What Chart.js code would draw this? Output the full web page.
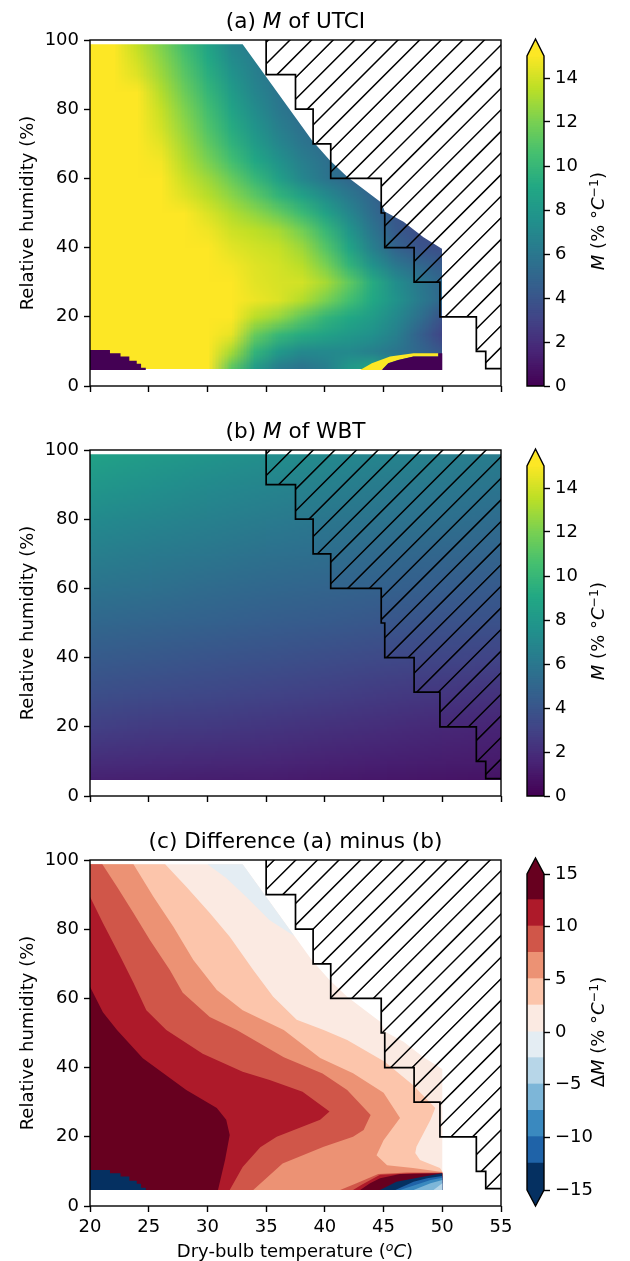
<!DOCTYPE html>
<html>
<head>
<meta charset="utf-8">
<script src="https://cdn.jsdelivr.net/npm/chart.js@4"></script>
<style>
html, body { margin: 0; padding: 0; background: #fff; }
#page { position: relative; width: 630px; height: 1261px; overflow: hidden; font-family: "DejaVu Sans"; color: #000; }
#page canvas { position: absolute; }
.txt { position: absolute; white-space: nowrap; transform: translate(-50%, -50%); }
.rot { transform: translate(-50%, -50%) rotate(-90deg); }
.title { font-size: 21.6px; }
.lab { font-size: 18px; }
.cb { font-size: 18px; }
sup { font-size: 70%; line-height: 0; vertical-align: 0.45em; }
</style>
</head>
<body>
<div id="page">
  <canvas id="panelA" width="530" height="400" style="left:0;top:20px"></canvas>
  <canvas id="barA" width="115" height="400" style="left:515px;top:20px"></canvas>
  <canvas id="panelB" width="530" height="400" style="left:0;top:430px"></canvas>
  <canvas id="barB" width="115" height="400" style="left:515px;top:430px"></canvas>
  <canvas id="panelC" width="530" height="421" style="left:0;top:840px"></canvas>
  <canvas id="barC" width="115" height="421" style="left:515px;top:840px"></canvas>

  <div class="txt title" style="left:295.5px;top:20px">(a) <i>M</i> of UTCI</div>
  <div class="txt title" style="left:295.5px;top:430px">(b) <i>M</i> of WBT</div>
  <div class="txt title" style="left:295.5px;top:840px">(c) Difference (a) minus (b)</div>
  <div class="txt lab rot" style="left:26px;top:213px">Relative humidity (%)</div>
  <div class="txt lab rot" style="left:26px;top:623px">Relative humidity (%)</div>
  <div class="txt lab rot" style="left:26px;top:1033px">Relative humidity (%)</div>
  <div class="txt lab" style="left:295px;top:1250px">Dry-bulb temperature (<sup><i>o</i></sup><i>C</i>)</div>
  <div class="txt cb rot" style="left:597px;top:221px"><i>M</i> (% °<i>C</i><sup>−1</sup>)</div>
  <div class="txt cb rot" style="left:597px;top:631px"><i>M</i> (% °<i>C</i><sup>−1</sup>)</div>
  <div class="txt cb rot" style="left:597px;top:1032px">Δ<i>M</i> (% °<i>C</i><sup>−1</sup>)</div>
</div>

<script>
// axis ticks
const tempTicks = [20, 25, 30, 35, 40, 45, 50, 55];
const humidTicks = [0, 20, 40, 60, 80, 100];
const mTicks = [0, 2, 4, 6, 8, 10, 12, 14];
const dmTicks = [-15, -10, -5, 0, 5, 10, 15];

// panel (a), M of UTCI, one row per humidity value
const utciT = [20, 22, 24, 26, 28, 30, 32, 34, 36, 38, 40, 42, 44, 46, 48, 50];
const utciRH = [5, 10, 15, 20, 25, 30, 35, 40, 45, 50, 55, 60, 65, 70, 75, 80, 85, 90, 95, 100];
const utci5 = [15, 15, 15, 15, 15, 15, 11, 8, 6.2, 5.6, 6.3, 8, 9, 7, 5, 4];
const utci10 = [15, 15, 15, 15, 15, 15, 13, 9.8, 8, 7, 7, 7, 6.5, 5.8, 5, 4];
const utci15 = [15, 15, 15, 15, 15, 15, 14.5, 11.5, 10, 9.2, 8.6, 8, 7.5, 6.5, 4.6, 3];
const utci20 = [15, 15, 15, 15, 15, 15, 15, 13.4, 12.6, 11.2, 9.8, 9, 8.2, 7, 5.5, 3.8];
const utci25 = [15, 15, 15, 15, 15, 15, 15, 14.6, 14.2, 13.3, 12, 10.5, 9, 7.6, 6.2, 5];
const utci30 = [15, 15, 15, 15, 15, 15, 15, 14.4, 14.1, 14, 13, 11.3, 9.2, 7.3, 6, 5];
const utci35 = [15, 15, 15, 15, 15, 15, 14.8, 14.3, 14, 13.4, 12, 9.8, 7.6, 6, 5, 4.3];
const utci40 = [15, 15, 15, 15, 15, 15, 14.4, 14, 13.7, 12.8, 11, 8.8, 6.5, 4.8, 3.9, 3.6];
const utci45 = [15, 15, 15, 15, 15, 14.7, 13.9, 13.5, 13, 11.8, 10, 7.8, 5.8, 4.3, 3.5, 3.3];
const utci50 = [15, 15, 15, 15, 15, 14.2, 13.3, 12.5, 11.5, 10.2, 8.6, 6.9, 5.3, 4, 3.5, 3.3];
const utci55 = [15, 15, 15, 15, 14.3, 13.4, 12.4, 11.2, 9.8, 8.6, 7.2, 6, 4.9, 3.8, 3.5, 3.3];
const utci60 = [15, 15, 15, 15, 13.8, 12.8, 11.5, 10, 8.5, 6.9, 5.8, 5.1, 4.5, 3.8, 3.5, 3.3];
const utci65 = [15, 15, 15, 14.8, 13.3, 12, 10.5, 9, 7.6, 6.4, 5.6, 4.9, 4.5, 3.8, 3.5, 3.3];
const utci70 = [15, 15, 15, 14.4, 12.9, 11.3, 9.7, 8.2, 6.9, 5.9, 5.2, 4.9, 4.5, 3.8, 3.5, 3.3];
const utci75 = [15, 15, 15, 14, 12.5, 10.8, 9.2, 7.7, 6.4, 5.5, 5, 4.9, 4.5, 3.8, 3.5, 3.3];
const utci80 = [15, 15, 15, 13.7, 12.1, 10.4, 8.7, 7.2, 6, 5.3, 5, 4.9, 4.5, 3.8, 3.5, 3.3];
const utci85 = [15, 15, 15, 13.3, 11.6, 9.9, 8.2, 6.8, 5.8, 5.3, 5, 4.9, 4.5, 3.8, 3.5, 3.3];
const utci90 = [15, 15, 14.3, 12.8, 11.1, 9.4, 7.7, 6.5, 5.6, 5.3, 5, 4.9, 4.5, 3.8, 3.5, 3.3];
const utci95 = [15, 15, 13.9, 12.4, 10.7, 9, 7.2, 6.3, 5.6, 5.3, 5, 4.9, 4.5, 3.8, 3.5, 3.3];
const utci100 = [15, 15, 13.5, 12, 10.2, 8.6, 6.8, 6, 5.6, 5.3, 5, 4.9, 4.5, 3.8, 3.5, 3.3];
const utciRows = [utci5, utci10, utci15, utci20, utci25, utci30, utci35, utci40, utci45, utci50, utci55, utci60, utci65, utci70, utci75, utci80, utci85, utci90, utci95, utci100];

// panel (b), M of WBT
const wbtT = [20, 25, 30, 35, 40, 45, 50, 55];
const wbtRH = [0, 10, 20, 30, 40, 50, 60, 70, 80, 90, 100];
const wbt0 = [0.9, 0.9, 0.8, 0.8, 0.7, 0.6, 0.5, 0.4];
const wbt10 = [1.9, 1.8, 1.7, 1.6, 1.4, 1.3, 1.2, 1.1];
const wbt20 = [2.8, 2.6, 2.5, 2.3, 2.1, 1.9, 1.7, 1.5];
const wbt30 = [3.6, 3.4, 3.2, 3.0, 2.8, 2.6, 2.4, 2.2];
const wbt40 = [4.3, 4.1, 3.9, 3.7, 3.5, 3.3, 3.1, 3.0];
const wbt50 = [5.0, 4.8, 4.6, 4.4, 4.2, 4.0, 3.8, 3.7];
const wbt60 = [5.7, 5.5, 5.2, 5.0, 4.8, 4.6, 4.4, 4.2];
const wbt70 = [6.4, 6.1, 5.9, 5.6, 5.4, 5.1, 4.9, 4.8];
const wbt80 = [7.1, 6.8, 6.5, 6.2, 5.9, 5.7, 5.5, 5.3];
const wbt90 = [7.9, 7.5, 7.1, 6.8, 6.5, 6.2, 6.0, 5.8];
const wbt100 = [8.7, 8.2, 7.8, 7.4, 7.1, 6.8, 6.5, 6.3];
const wbtRows = [wbt0, wbt10, wbt20, wbt30, wbt40, wbt50, wbt60, wbt70, wbt80, wbt90, wbt100];

// outline of the data (T, RH) in panels a and c, and in b
const maskT = [20, 50, 50, 48.4, 46.7, 45.1, 44.8, 41.9, 40.4, 38.9, 33, 20];
const maskRH = [4.6, 4.6, 39.6, 43, 47.5, 50.4, 53, 60.5, 65.3, 71, 98.8, 98.8];
const fullT = [20, 55, 55, 20];
const fullRH = [4.6, 4.6, 98.8, 98.8];

// hatched region
const hatchT = [35, 35, 37.5, 37.5, 39, 39, 40.5, 40.5, 44.8, 44.8, 45.1, 45.1, 47.6, 47.6, 49.8, 49.8, 52.9, 52.9, 53.7, 53.7, 55, 55, 35];
const hatchRH = [100, 90, 90, 80, 80, 70, 70, 60, 60, 50, 50, 40, 40, 30, 30, 20, 20, 10, 10, 5, 5, 100, 100];

// extreme patches in panel a
const coldT = [20, 20, 21.7, 21.7, 22.6, 22.6, 23.35, 23.35, 23.98, 23.98, 24.35, 24.35, 24.75, 24.75];
const coldRH = [4.6, 10.4, 10.4, 9.45, 9.45, 8.5, 8.5, 7.3, 7.3, 6.4, 6.4, 5.3, 5.3, 4.6];
const streakHighT = [43, 44, 45.55, 47.55, 49.66, 49.66, 47.55, 46.25, 45.4, 44.85];
const streakHighRH = [4.6, 6.55, 8.5, 9.45, 9.45, 8.5, 8.5, 7.5, 6.55, 4.6];
const streakLowT = [44.85, 45.4, 46.25, 47.55, 49.66, 49.66, 50, 50];
const streakLowRH = [4.6, 6.55, 7.5, 8.5, 8.5, 9.45, 9.45, 4.6];

// panel (c) contours: level curves closed towards the left edge
const lev125T = [20, 21.1, 22.3, 24.5, 28.2, 30.8, 31.6, 31.9, 31.5, 30.9, 20];
const lev125RH = [63.4, 56, 50.9, 42.7, 33.5, 28.3, 24.9, 20.5, 13.3, 4.6, 4.6];
const lev10T = [20, 21.1, 22.6, 23.7, 24.8, 26.5, 29.6, 33, 35.3, 38.1, 40.4, 39.6, 35.9, 34.5, 33, 31.9, 20];
const lev10RH = [89.4, 81.8, 72, 64.5, 56.6, 50.9, 44, 38.8, 36.4, 33, 27.3, 24.9, 20, 17, 11.3, 4.6, 4.6];
const lev75T = [20, 21.05, 22.3, 23.7, 25.1, 26.8, 27.9, 30.2, 32.5, 36.5, 39.8, 41.9, 43.9, 43.3, 42.4, 39.9, 36.4, 33.9, 20];
const lev75RH = [98.8, 98.8, 92.3, 84.7, 76.9, 68.2, 61.6, 54.6, 50.9, 43, 38.3, 33.5, 26.3, 22, 20, 17.1, 12.3, 4.6, 4.6];
const lev5T = [20, 23.7, 25.4, 27.1, 28.8, 30.8, 33, 36.5, 39.6, 42.4, 45, 46.4, 45, 44.4, 45.3, 47.5, 50, 50, 20];
const lev5RH = [98.8, 98.8, 89.4, 80.7, 71.1, 62.4, 56.6, 50.9, 42.8, 38.4, 32.7, 25.4, 19, 14.7, 11.8, 11, 9.8, 4.6, 4.6];
const lev25T = [20, 26.4, 28.2, 30.2, 31.9, 33.9, 35.6, 37.6, 39.9, 41.9, 45.1, 47.5, 49.4, 49, 47.8, 47.7, 48.1, 49.8, 50, 50, 20];
const lev25RH = [98.8, 98.8, 92.3, 84.7, 77.8, 68.2, 60.5, 53.8, 50.9, 48, 41.7, 35, 28.3, 24.9, 17.1, 15.3, 13.3, 11, 10, 4.6, 4.6];
const levNegT = [30, 33, 37.4, 35.3, 33.3, 31.6];
const levNegRH = [98.8, 98.8, 78, 82.6, 89.4, 94.8];

// wedge and blue tongue at the bottom right of panel c
const wedgeAT = [41.3, 42.7, 44.55, 47, 50, 50];
const wedgeART = [4.6, 6.6, 9.25, 9.7, 9.7, 4.6];
const wedgeBT = [42.4, 43.1, 44.7, 47.55, 50, 50];
const wedgeBRH = [4.6, 6.1, 9, 9.45, 9.45, 4.6];
const wedgeCT = [43, 43.85, 44.7, 46.4, 50, 50];
const wedgeCRH = [4.6, 6.55, 8, 9.25, 9.45, 4.6];
const tongueAT = [44.7, 46.1, 48.7, 50, 50];
const tongueARH = [4.6, 7, 8.7, 9.45, 4.6];
const tongueBT = [46, 47.55, 48.7, 50, 50];
const tongueBRH = [4.6, 7, 8, 8.7, 4.6];
const tongueCT = [46.4, 47.7, 49, 50, 50];
const tongueCRH = [4.6, 6.1, 7.5, 8.2, 4.6];
const tongueDT = [47.55, 49, 50, 50];
const tongueDRH = [4.6, 6.55, 7.5, 4.6];
const tongueET = [49.25, 50, 50];
const tongueERH = [4.6, 6.55, 4.6];

const viridis = ["#440154", "#482475", "#414487", "#355f8d", "#2a788e", "#21918c", "#22a884", "#44bf70", "#7ad151", "#bddf26", "#fde725"];
const dmLevels = [-17.5, -12.5, -10, -7.5, -5, -2.5, 0, 2.5, 5, 7.5, 10, 12.5, 17.5];
const dmColors = ["#053061", "#1f63a8", "#3a89bf", "#7db6d8", "#b7d6e8", "#e4edf3", "#fbeae2", "#fcc5ab", "#ec9274", "#d05649", "#ae1a2a", "#67001f"];

Chart.defaults.font.family = '"DejaVu Sans"';
Chart.defaults.font.size = 18;
Chart.defaults.color = "#000";

function hexRgb(h) {
    return [parseInt(h.slice(1, 3), 16), parseInt(h.slice(3, 5), 16), parseInt(h.slice(5, 7), 16)];
}

function mColor(v) {
    const p = Math.max(0, Math.min(1, v / 15)) * (viridis.length - 1);
    const i = Math.min(Math.floor(p), viridis.length - 2);
    const a = hexRgb(viridis[i]), b = hexRgb(viridis[i + 1]);
    const c = a.map((q, k) => Math.round(q + (b[k] - q) * (p - i)));
    return `rgb(${c[0]},${c[1]},${c[2]})`;
}

function pts(xs, ys) {
    return xs.map((x, i) => ({ x: x, y: ys[i] }));
}

function shape(xs, ys, color) {
    return { type: "line", data: pts(xs, ys), showLine: true, fill: "shape", backgroundColor: color, borderWidth: 0, pointRadius: 0, tension: 0 };
}

function tracePoly(ctx, chart, xs, ys) {
    ctx.beginPath();
    xs.forEach((x, i) => {
        const px = chart.scales.x.getPixelForValue(x), py = chart.scales.y.getPixelForValue(ys[i]);
        if (i === 0) ctx.moveTo(px, py); else ctx.lineTo(px, py);
    });
    ctx.closePath();
}

// heat cells go to a small canvas, one pixel per cell, then get scaled up smoothly
function heatPlugin(gridT, gridRH, rows, outT, outRH) {
    return {
        id: "heat",
        beforeDatasetsDraw(chart) {
            const off = document.createElement("canvas");
            off.width = gridT.length;
            off.height = gridRH.length;
            const oc = off.getContext("2d");
            rows.forEach((row, r) => row.forEach((v, c) => {
                oc.fillStyle = mColor(v);
                oc.fillRect(c, gridRH.length - 1 - r, 1, 1);
            }));
            const ctx = chart.ctx;
            const x0 = chart.scales.x.getPixelForValue(gridT[0]);
            const x1 = chart.scales.x.getPixelForValue(gridT[gridT.length - 1]);
            const y0 = chart.scales.y.getPixelForValue(gridRH[gridRH.length - 1]);
            const y1 = chart.scales.y.getPixelForValue(gridRH[0]);
            ctx.save();
            tracePoly(ctx, chart, outT, outRH);
            ctx.clip();
            ctx.imageSmoothingEnabled = true;
            ctx.imageSmoothingQuality = "low";
            ctx.drawImage(off, 0.5, 0.5, gridT.length - 1, gridRH.length - 1, x0, y0, x1 - x0, y1 - y0);
            ctx.restore();
        }
    };
}

// hatch lines and the box round the axes
function framePlugin(phase, canvasTop) {
    return {
        id: "frame",
        afterDatasetsDraw(chart) {
            const ctx = chart.ctx, a = chart.chartArea;
            ctx.save();
            tracePoly(ctx, chart, hatchT, hatchRH);
            ctx.clip();
            ctx.strokeStyle = "#000";
            ctx.lineWidth = 1.5;
            ctx.beginPath();
            for (let c = phase; c < 2000; c += 21.6) {
                const k = c - canvasTop;
                ctx.moveTo(k, 0);
                ctx.lineTo(k - 600, 600);
            }
            ctx.stroke();
            ctx.restore();
            ctx.strokeStyle = "#000";
            ctx.lineWidth = 1.4;
            ctx.strokeRect(a.left, a.top, a.right - a.left, a.bottom - a.top);
        }
    };
}

function panel(id, pad, showX, datasets, plugins) {
    const outline = { type: "line", data: pts(hatchT.slice(0, 21), hatchRH.slice(0, 21)), showLine: true, fill: false, borderColor: "#000", borderWidth: 1.7, pointRadius: 0, tension: 0 };
    return new Chart(id, {
        type: "scatter",
        data: { datasets: [outline].concat(datasets.slice().reverse()) },
        plugins: plugins,
        options: {
            responsive: false,
            animation: false,
            layout: { padding: { top: pad.top, right: pad.right } },
            plugins: { legend: { display: false }, tooltip: { enabled: false } },
            scales: {
                x: {
                    type: "linear", min: 20, max: 55,
                    afterFit: s => { s.height = pad.bottom; },
                    afterBuildTicks: s => { s.ticks = tempTicks.map(v => ({ value: v })); },
                    border: { display: false },
                    grid: { drawOnChartArea: false, tickLength: 6, tickColor: "#000", tickWidth: 1.4 },
                    ticks: { autoSkip: false, maxRotation: 0, padding: 5, callback: v => showX ? v : "" }
                },
                y: {
                    type: "linear", min: 0, max: 100,
                    afterFit: s => { s.width = pad.left; },
                    afterBuildTicks: s => { s.ticks = humidTicks.map(v => ({ value: v })); },
                    border: { display: false },
                    grid: { drawOnChartArea: false, tickLength: 6, tickColor: "#000", tickWidth: 1.4 },
                    ticks: { autoSkip: false, padding: 5 }
                }
            }
        }
    });
}

// colorbar: floating bars on its own right hand axis, plus extend triangles
function colorbar(id, pad, min, max, ticks, bands, tipTop, tipBottom, topColor, bottomColor) {
    const extend = {
        id: "extend",
        afterDraw(chart) {
            const ctx = chart.ctx, a = chart.chartArea;
            const mid = (a.left + a.right) / 2;
            ctx.save();
            ctx.fillStyle = topColor;
            ctx.beginPath();
            ctx.moveTo(a.left, a.top);
            ctx.lineTo(mid, a.top - tipTop);
            ctx.lineTo(a.right, a.top);
            ctx.closePath();
            ctx.fill();
            if (tipBottom) {
                ctx.fillStyle = bottomColor;
                ctx.beginPath();
                ctx.moveTo(a.left, a.bottom);
                ctx.lineTo(mid, a.bottom + tipBottom);
                ctx.lineTo(a.right, a.bottom);
                ctx.closePath();
                ctx.fill();
            }
            ctx.strokeStyle = "#000";
            ctx.lineWidth = 1.4;
            ctx.beginPath();
            ctx.moveTo(a.left, a.bottom);
            if (tipBottom) {
                ctx.lineTo(mid, a.bottom + tipBottom);
                ctx.lineTo(a.right, a.bottom);
            } else {
                ctx.lineTo(a.right, a.bottom);
            }
            ctx.lineTo(a.right, a.top);
            ctx.lineTo(mid, a.top - tipTop);
            ctx.lineTo(a.left, a.top);
            ctx.closePath();
            ctx.stroke();
            ctx.restore();
        }
    };
    return new Chart(id, {
        type: "bar",
        data: {
            labels: [""],
            datasets: bands.map(b => ({ data: [[b.lo, b.hi]], backgroundColor: b.color, grouped: false, barPercentage: 1, categoryPercentage: 1, inflateAmount: 1 }))
        },
        plugins: [extend],
        options: {
            responsive: false,
            animation: false,
            layout: { padding: { left: pad.left, top: pad.top, bottom: pad.bottom } },
            plugins: { legend: { display: false }, tooltip: { enabled: false } },
            scales: {
                x: { display: false },
                y: {
                    position: "right", min: min, max: max,
                    afterFit: s => { s.width = pad.right; },
                    afterBuildTicks: s => { s.ticks = ticks.map(v => ({ value: v })); },
                    border: { display: false },
                    grid: { drawOnChartArea: false, tickLength: 6, tickColor: "#000", tickWidth: 1.4 },
                    ticks: { autoSkip: false, padding: 5, callback: v => String(v).replace("-", "\u2212") }
                }
            }
        }
    });
}

const padA = { left: 90, right: 29, top: 20, bottom: 34 };
const padB = { left: 90, right: 29, top: 20, bottom: 34 };
const padC = { left: 90, right: 29, top: 20, bottom: 55 };

panel("panelA", padA, false, [
    shape(coldT, coldRH, viridis[0]),
    shape(streakHighT, streakHighRH, viridis[10]),
    shape(streakLowT, streakLowRH, viridis[0])
], [heatPlugin(utciT, utciRH, utciRows, maskT, maskRH), framePlugin(6, 20)]);

panel("panelB", padB, false, [], [heatPlugin(wbtT, wbtRH, wbtRows, fullT, fullRH), framePlugin(7.3, 430)]);

panel("panelC", padC, true, [
    shape(maskT, maskRH, dmColors[6]),
    shape(levNegT, levNegRH, dmColors[5]),
    shape(lev25T, lev25RH, dmColors[7]),
    shape(lev5T, lev5RH, dmColors[8]),
    shape(lev75T, lev75RH, dmColors[9]),
    shape(lev10T, lev10RH, dmColors[10]),
    shape(lev125T, lev125RH, dmColors[11]),
    shape(coldT, coldRH, dmColors[0]),
    shape(wedgeAT, wedgeART, dmColors[9]),
    shape(wedgeBT, wedgeBRH, dmColors[10]),
    shape(wedgeCT, wedgeCRH, dmColors[11]),
    shape(tongueAT, tongueARH, dmColors[0]),
    shape(tongueBT, tongueBRH, dmColors[1]),
    shape(tongueCT, tongueCRH, dmColors[2]),
    shape(tongueDT, tongueDRH, dmColors[3]),
    shape(tongueET, tongueERH, dmColors[4])
], [framePlugin(11, 840)]);

const mBands = [];
for (let v = 0; v < 15; v += 0.1) {
    mBands.push({ lo: v, hi: v + 0.1, color: mColor(v + 0.05) });
}
const dBands = dmColors.map((c, i) => ({ lo: dmLevels[i], hi: dmLevels[i + 1], color: c }));

colorbar("barA", { left: 12, right: 86, top: 36, bottom: 34 }, 0, 15, mTicks, mBands, 17, 0, viridis[10]);
colorbar("barB", { left: 12, right: 86, top: 36, bottom: 34 }, 0, 15, mTicks, mBands, 17, 0, viridis[10]);
colorbar("barC", { left: 12, right: 86, top: 34, bottom: 71 }, -15, 15, dmTicks, dBands, 16, 16, dmColors[11], dmColors[0]);
</script>
</body>
</html>
